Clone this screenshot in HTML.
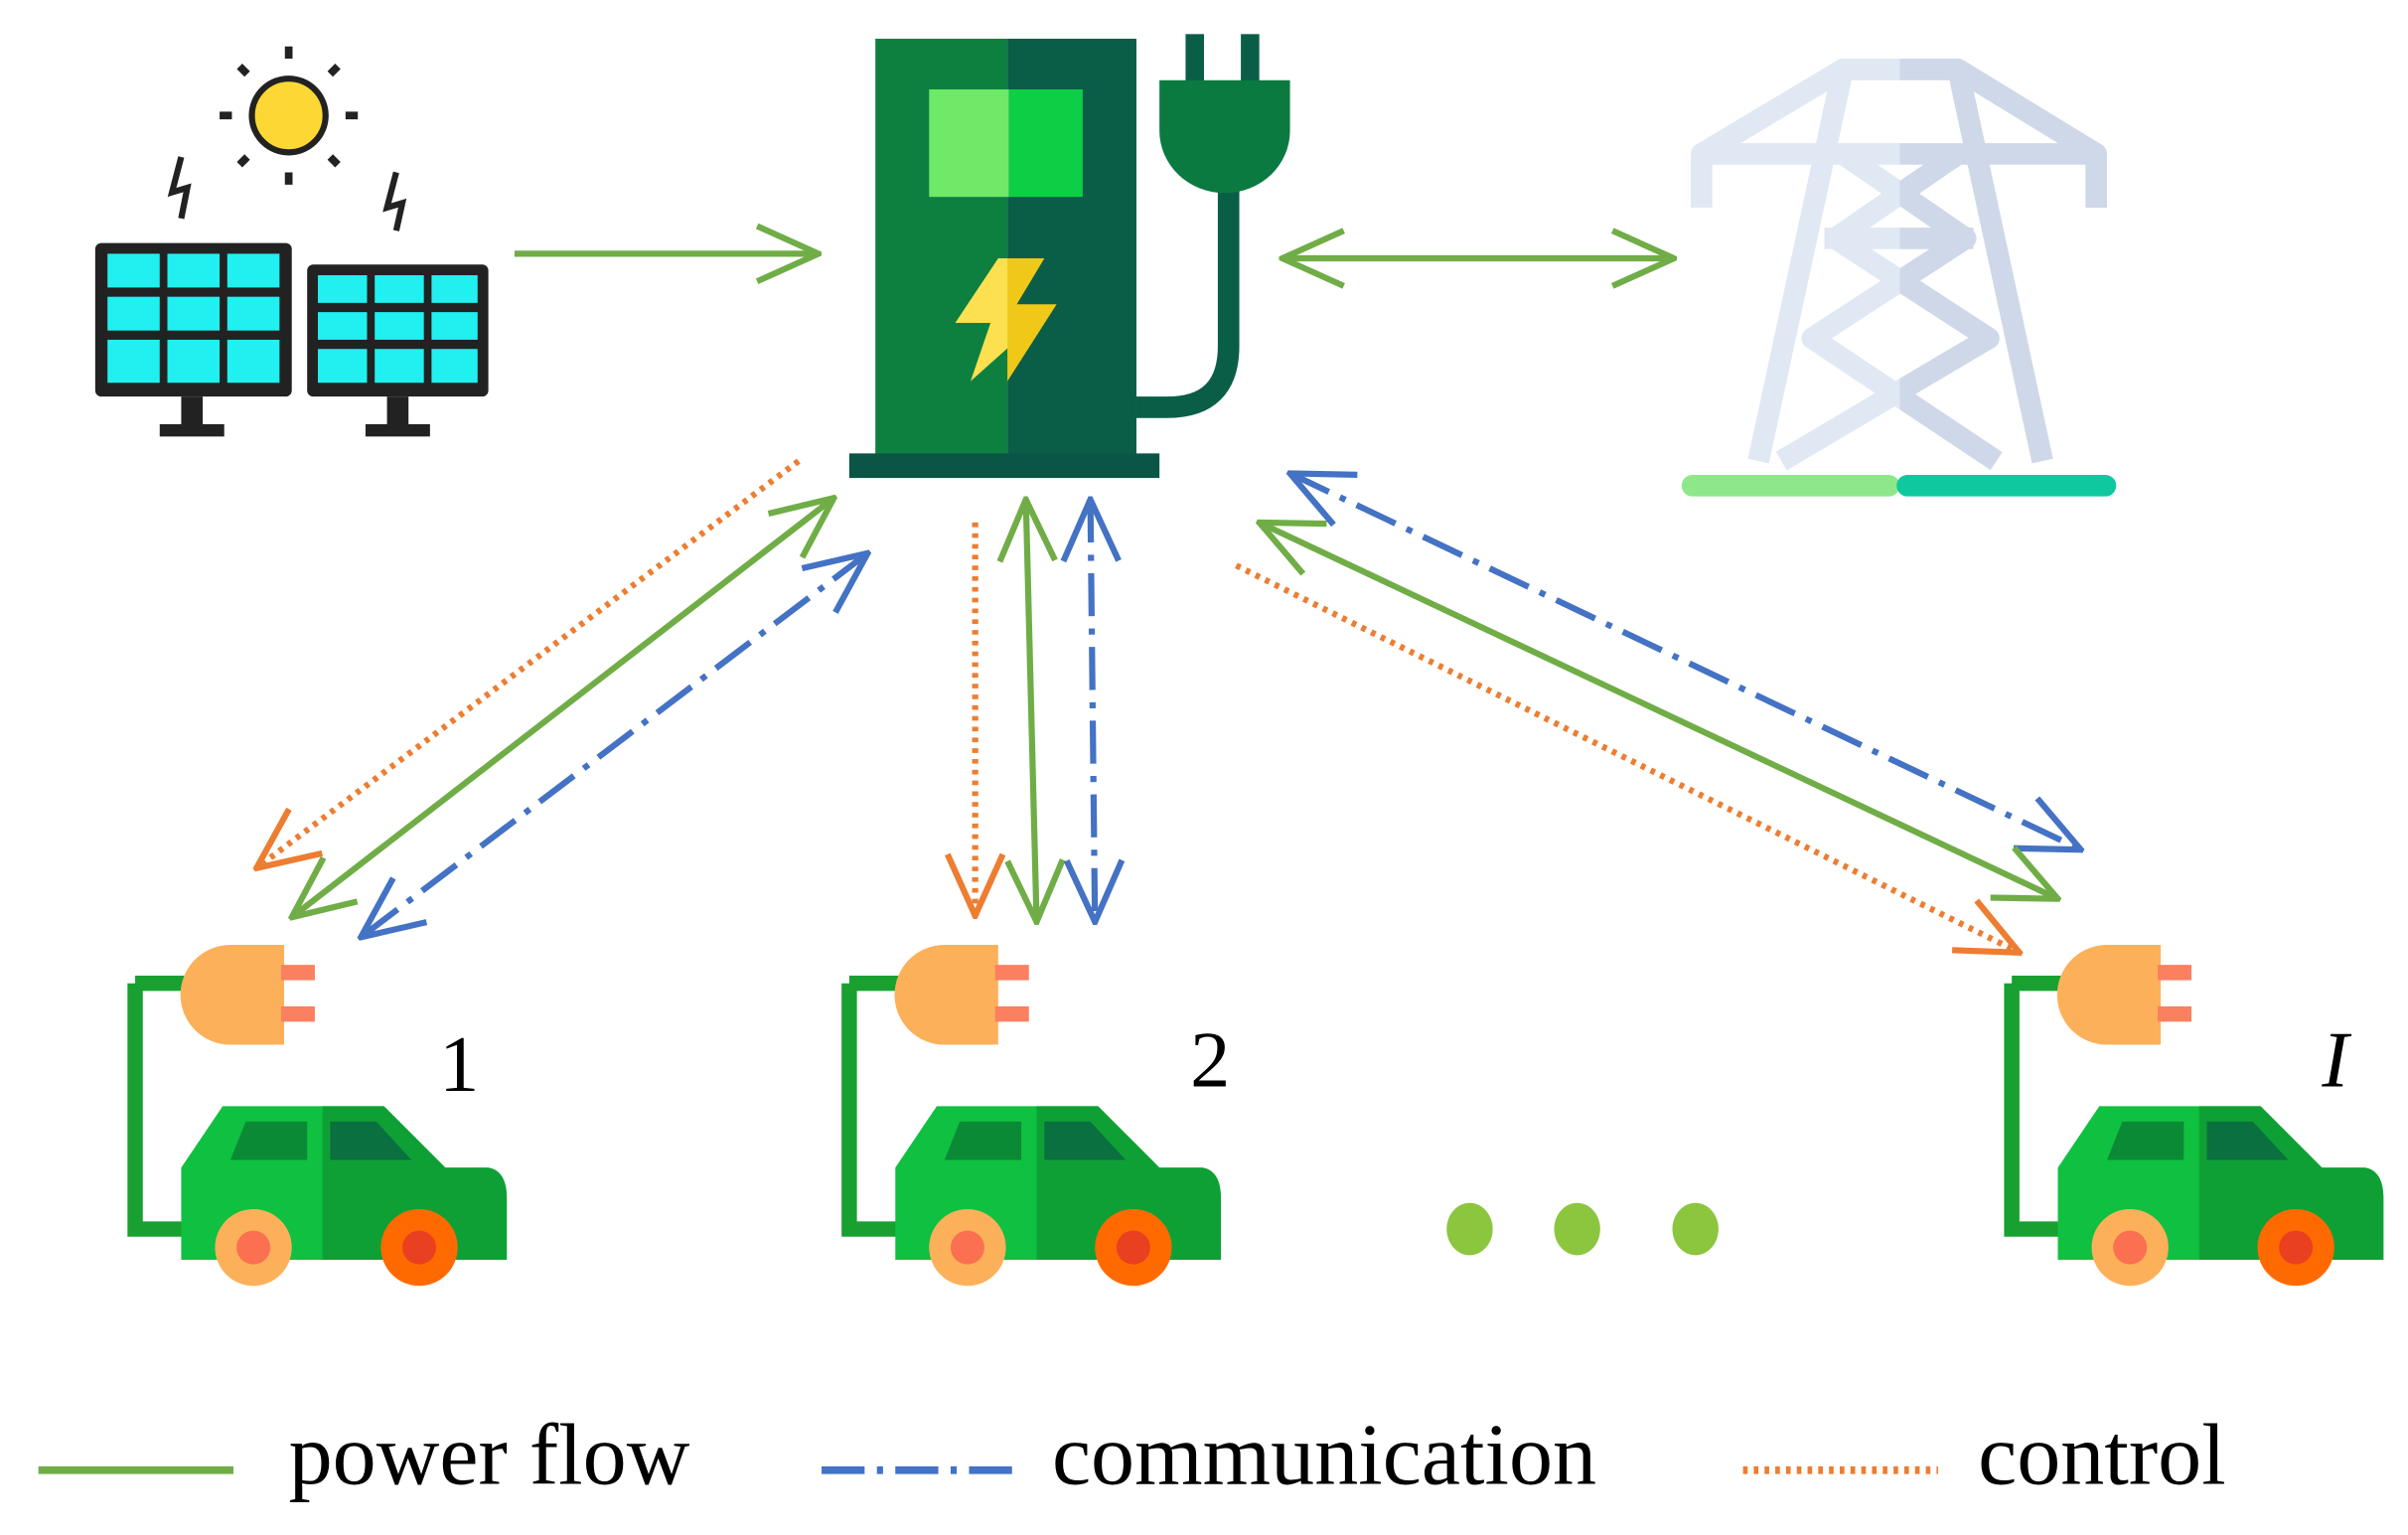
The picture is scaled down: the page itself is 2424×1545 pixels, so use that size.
<!DOCTYPE html>
<html><head><meta charset="utf-8"><style>html,body{margin:0;padding:0;background:#fff}svg{display:block}</style></head>
<body>
<svg width="2424" height="1545" viewBox="0 0 1568 999" xmlns="http://www.w3.org/2000/svg">
<defs>
<marker id="ag" viewBox="-2 -2 44 40" refX="40" refY="18" markerWidth="44" markerHeight="40" orient="auto-start-reverse" markerUnits="userSpaceOnUse"><path d="M0,0 L40,18 L0,36" fill="none" stroke="#70ad47" stroke-width="4"/></marker>
<marker id="ab" viewBox="-2 -2 44 40" refX="40" refY="18" markerWidth="44" markerHeight="40" orient="auto-start-reverse" markerUnits="userSpaceOnUse"><path d="M0,0 L40,18 L0,36" fill="none" stroke="#4472c4" stroke-width="4"/></marker>
<marker id="ao" viewBox="-2 -2 44 40" refX="40" refY="18" markerWidth="44" markerHeight="40" orient="auto-start-reverse" markerUnits="userSpaceOnUse"><path d="M0,0 L40,18 L0,36" fill="none" stroke="#ed7d31" stroke-width="4"/></marker>
<g id="car">
 <path d="M88,640 H125 M88,640 V800 H120" fill="none" stroke="#18a030" stroke-width="10"/>
 <path d="M150,615 H185 V680 H150 A32,32 0 0 1 150,615Z" fill="#fdb05a"/>
 <rect x="183" y="628" width="22" height="10" fill="#fa8060"/><rect x="183" y="655" width="22" height="10" fill="#fa8060"/>
 <path d="M118,760 L145,720 H250 L290,760 H318 Q330,762 330,780 V820 H118Z" fill="#10c040"/>
 <path d="M210,720 H250 L290,760 H318 Q330,762 330,780 V820 H210Z" fill="#0ea035"/>
 <path d="M150,755 L160,730 H200 V755Z" fill="#0a8a35"/><path d="M215,730 H245 L268,755 H215Z" fill="#0a7040"/>
 <circle cx="165" cy="812" r="25" fill="#fdb05a"/><circle cx="165" cy="812" r="11" fill="#fa7050"/>
 <circle cx="273" cy="812" r="25" fill="#ff6a00"/><circle cx="273" cy="812" r="11" fill="#e84020"/>
</g>
</defs>
<circle cx="188" cy="75" r="24" fill="#fdd835" stroke="#222" stroke-width="4"/>
<g stroke="#222" stroke-width="5"><path d="M188,30v8M188,112v8M143,75h8M225,75h8M156,43l5,5M215,102l5,5M220,43l-5,5M161,102l-5,5"/></g>
<path d="M118,102 L112,125 L122,122 L118,142 M258,112 L252,135 L262,132 L258,150" fill="none" stroke="#222" stroke-width="4"/>
<rect x="62" y="158" width="128" height="100" rx="4" fill="#222"/>
<rect x="200" y="172" width="118" height="86" rx="4" fill="#222"/>
<g fill="#20f0f0">
<rect x="70" y="165" width="34" height="22"/><rect x="109" y="165" width="34" height="22"/><rect x="148" y="165" width="34" height="22"/>
<rect x="70" y="193" width="34" height="22"/><rect x="109" y="193" width="34" height="22"/><rect x="148" y="193" width="34" height="22"/>
<rect x="70" y="221" width="34" height="28"/><rect x="109" y="221" width="34" height="28"/><rect x="148" y="221" width="34" height="28"/>
<rect x="207" y="179" width="32" height="18"/><rect x="244" y="179" width="32" height="18"/><rect x="281" y="179" width="30" height="18"/>
<rect x="207" y="203" width="32" height="18"/><rect x="244" y="203" width="32" height="18"/><rect x="281" y="203" width="30" height="18"/>
<rect x="207" y="227" width="32" height="22"/><rect x="244" y="227" width="32" height="22"/><rect x="281" y="227" width="30" height="22"/>
</g>
<rect x="118" y="258" width="14" height="20" fill="#222"/><rect x="104" y="276" width="42" height="8" fill="#222"/>
<rect x="252" y="258" width="14" height="20" fill="#222"/><rect x="238" y="276" width="42" height="8" fill="#222"/>
<rect x="570" y="25" width="86" height="275" fill="#0d8040"/>
<rect x="656" y="25" width="84" height="275" fill="#0a5e48"/>
<rect x="605" y="58" width="52" height="70" fill="#70e868"/><rect x="657" y="58" width="48" height="70" fill="#0ccf45"/>
<path d="M650,168 L622,210 L645,210 L632,248 L688,198 L662,198 L680,168Z" fill="#fde050"/>
<path d="M656,168 V248 L688,198 L662,198 L680,168Z" fill="#f0c818"/>
<rect x="553" y="295" width="202" height="16" fill="#0a5545"/>
<path d="M800,110 V225 Q800,265 760,265 H740" fill="none" stroke="#0a5e48" stroke-width="14"/>
<rect x="772" y="22" width="12" height="35" fill="#0a5e48"/><rect x="808" y="22" width="12" height="35" fill="#0a5e48"/>
<path d="M755,52 H840 V85 A42,40 0 0 1 755,85Z" fill="#0a7a40"/>
<clipPath id="lh"><rect x="1090" y="0" width="147" height="330"/></clipPath>
<clipPath id="rh"><rect x="1237" y="0" width="150" height="330"/></clipPath>
<g id="tw" fill="none" stroke-width="14" stroke-linejoin="round">
<g stroke="#e0e8f4" clip-path="url(#lh)">
<path d="M1108,135 V100 L1200,45 H1275 L1365,100 V135 M1108,100 H1365 M1200,45 L1145,300 M1275,45 L1330,300 M1200,100 L1280,155 L1180,220 L1300,300 M1275,100 L1195,155 L1295,220 L1160,300 M1188,155 H1285"/>
</g>
<g stroke="#cfd8e8" clip-path="url(#rh)">
<path d="M1108,135 V100 L1200,45 H1275 L1365,100 V135 M1108,100 H1365 M1200,45 L1145,300 M1275,45 L1330,300 M1200,100 L1280,155 L1180,220 L1300,300 M1275,100 L1195,155 L1295,220 L1160,300 M1188,155 H1285"/>
</g>
</g>
<rect x="1095" y="309" width="142" height="14" rx="7" fill="#8ee88a"/>
<rect x="1235" y="309" width="143" height="14" rx="7" fill="#10c8a0"/>
<line x1="335" y1="165" x2="533" y2="165" stroke="#70ad47" stroke-width="4" marker-end="url(#ag)"/>
<line x1="835" y1="168" x2="1090" y2="168" stroke="#70ad47" stroke-width="4" marker-start="url(#ag)" marker-end="url(#ag)"/>
<line x1="520" y1="300" x2="167" y2="565" stroke="#ed7d31" stroke-width="4" stroke-dasharray="3,4" marker-end="url(#ao)"/>
<line x1="543" y1="324" x2="190" y2="597" stroke="#70ad47" stroke-width="4" marker-start="url(#ag)" marker-end="url(#ag)"/>
<line x1="565" y1="360" x2="235" y2="610" stroke="#4472c4" stroke-width="4" stroke-dasharray="28,8,4,8" marker-start="url(#ab)" marker-end="url(#ab)"/>
<line x1="635" y1="340" x2="635" y2="596" stroke="#ed7d31" stroke-width="4" stroke-dasharray="3,4" marker-end="url(#ao)"/>
<line x1="668" y1="325" x2="675" y2="600" stroke="#70ad47" stroke-width="4" marker-start="url(#ag)" marker-end="url(#ag)"/>
<line x1="710" y1="325" x2="713" y2="600" stroke="#4472c4" stroke-width="4" stroke-dasharray="28,8,4,8" marker-start="url(#ab)" marker-end="url(#ab)"/>
<line x1="840" y1="308" x2="1355" y2="553" stroke="#4472c4" stroke-width="4" stroke-dasharray="28,8,4,8" marker-start="url(#ab)" marker-end="url(#ab)"/>
<line x1="820" y1="340" x2="1340" y2="585" stroke="#70ad47" stroke-width="4" marker-start="url(#ag)" marker-end="url(#ag)"/>
<line x1="805" y1="368" x2="1315" y2="620" stroke="#ed7d31" stroke-width="4" stroke-dasharray="3,4" marker-end="url(#ao)"/>
<use href="#car"/>
<use href="#car" x="465"/>
<use href="#car" x="1222"/>
<g font-family="Liberation Serif, serif" font-size="52" fill="#000">
<text x="286" y="710">1</text><text x="775" y="707">2</text><text x="1512" y="707" font-style="italic">I</text>
</g>
<g fill="#8cc63f"><ellipse cx="957" cy="800" rx="15" ry="17"/><ellipse cx="1027" cy="800" rx="15" ry="17"/><ellipse cx="1104" cy="800" rx="15" ry="17"/></g>
<line x1="25" y1="957" x2="152" y2="957" stroke="#70ad47" stroke-width="5"/>
<line x1="535" y1="957" x2="662" y2="957" stroke="#4472c4" stroke-width="5" stroke-dasharray="28,8,4,8"/>
<line x1="1135" y1="957" x2="1262" y2="957" stroke="#ed7d31" stroke-width="5" stroke-dasharray="3,4"/>
<g font-family="Liberation Serif, serif" font-size="57" fill="#000">
<text x="188" y="966">power flow</text><text x="685" y="966">communication</text><text x="1288" y="966">control</text>
</g>
</svg>
</body></html>
